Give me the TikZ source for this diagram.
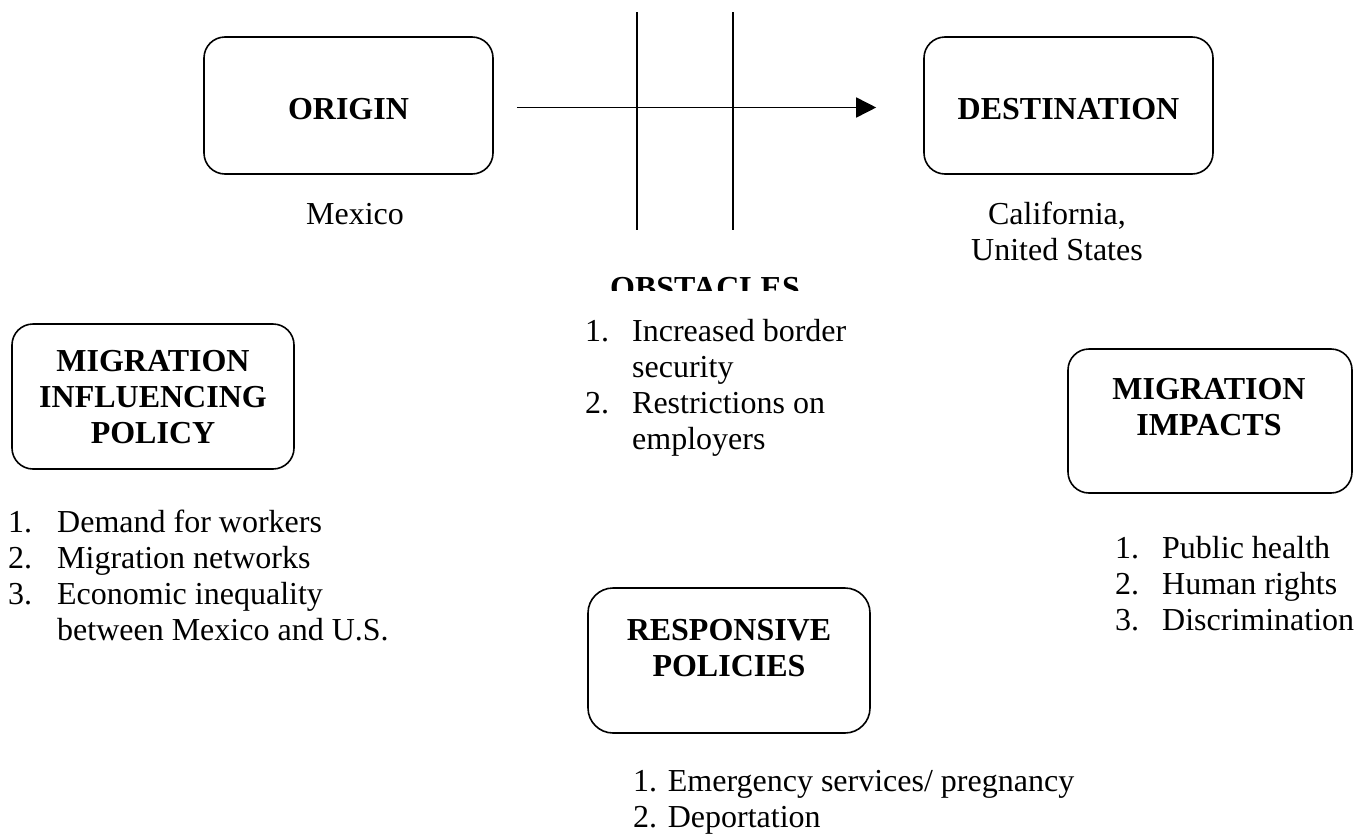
\documentclass[tikz,border=0pt]{standalone}
\usepackage{fontspec}
\setmainfont{Liberation Serif}
\usetikzlibrary{arrows.meta}
\newcommand\myfs{\fontsize{32}{36}\selectfont}
\begin{document}
\begin{tikzpicture}[x=1pt,y=-1pt,
  box/.style={draw,line width=1.6pt,rounded corners=21pt,inner sep=0pt},
  txt/.style={inner sep=0pt,font=\myfs},
  ttl/.style={inner sep=0pt,font=\myfs\bfseries,anchor=base},
  lin/.style={line width=1.6pt}]
\useasboundingbox (0,0) rectangle (1371,838);
% boxes
\node[box,minimum width=289pt,minimum height=137pt] (origin) at (348.5,105.5) {};
\node[box,minimum width=289pt,minimum height=137pt] (dest) at (1068.5,105.5) {};
\node[box,minimum width=282pt,minimum height=145pt] (mip) at (153,396.5) {};
\node[box,minimum width=284pt,minimum height=144pt] (mim) at (1210,421) {};
\node[box,minimum width=282pt,minimum height=145pt,rounded corners=25pt] (resp) at (729,660.5) {};
% titles
\node[ttl] (torigin) at (348.5,119) {ORIGIN};
\node[ttl] (tdest) at (1068.5,119) {DESTINATION};
\node[ttl] (tmip) at (153,371) {\begin{tabular}[t]{@{}c@{}}MIGRATION\\INFLUENCING\\POLICY\end{tabular}};
\node[ttl] (tmim) at (1209,399) {\begin{tabular}[t]{@{}c@{}}MIGRATION\\IMPACTS\end{tabular}};
\node[ttl] (tresp) at (729,640) {\begin{tabular}[t]{@{}c@{}}RESPONSIVE\\POLICIES\end{tabular}};
% arrow and border lines
\draw[lin,-{Triangle[length=20pt,width=20pt]},shorten <=23pt,shorten >=47pt]
  ([yshift=-2pt]origin.east) -- ([yshift=-2pt]dest.west);
\coordinate (b1t) at (637,12);
\coordinate (b1b) at (637,230);
\coordinate (b2t) at (733,12);
\coordinate (b2b) at (733,230);
\draw[lin] (b1t) -- (b1b);
\draw[lin] (b2t) -- (b2b);
% labels
\node[txt,anchor=base] (mex) at (355,224) {Mexico};
\node[txt,anchor=base] (cal) at (1057,224) {\begin{tabular}[t]{@{}c@{}}California,\\United States\end{tabular}};
\begin{scope}
\clip (560,250) rectangle (850,290);
\node[ttl] (tobst) at (705,298) {OBSTACLES};
\end{scope}
\node[txt,anchor=base west] (lobst) at (585,341) {\begin{tabular}[t]{@{}p{47pt}@{}l@{}}1. & Increased border\\ & security\\ 2. & Restrictions on\\ & employers\end{tabular}};
\node[txt,anchor=base west] (lmip) at (8,532) {\begin{tabular}[t]{@{}p{49pt}@{}l@{}}1. & Demand for workers\\ 2. & Migration networks\\ 3. & Economic inequality\\ & between Mexico and U.S.\end{tabular}};
\node[txt,anchor=base west] (lmim) at (1115,558) {\begin{tabular}[t]{@{}p{47pt}@{}l@{}}1. & Public health\\ 2. & Human rights\\ 3. & Discrimination\end{tabular}};
\node[txt,anchor=base west] (lresp) at (633,791) {\begin{tabular}[t]{@{}l@{}}1. Emergency services/ pregnancy\\ 2. Deportation\end{tabular}};
\end{tikzpicture}
\end{document}
